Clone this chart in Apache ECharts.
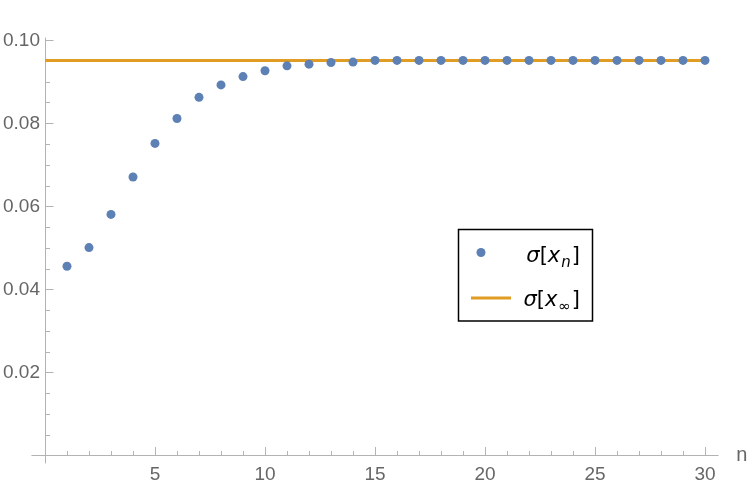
<!DOCTYPE html>
<html>
<head>
<meta charset="utf-8">
<script src="https://cdn.jsdelivr.net/npm/echarts@6/dist/echarts.min.js"></script>
<style>html,body{margin:0;padding:0;background:#fff}#c{width:750px;height:492px}</style>
</head>
<body>
<div id="c"></div>
<script>
const nValues = [1,2,3,4,5,6,7,8,9,10,11,12,13,14,15,16,17,18,19,20,21,22,23,24,25,26,27,28,29,30];
const sigmaN = [0.0456,0.0501,0.0581,0.0671,0.0752,0.0812,0.0863,0.0893,0.0913,0.0927,
                0.0939,0.0943,0.0947,0.0948,0.0952,0.0952,0.0952,0.0952,0.0952,0.0952,
                0.0952,0.0952,0.0952,0.0952,0.0952,0.0952,0.0952,0.0952,0.0952,0.0952];
const sigmaInf = 0.0952;
const limitX = [0, 30];
const xMajorTicks = [5,10,15,20,25,30];
const xMinorTicks = [1,2,3,4,5,6,7,8,9,10,11,12,13,14,15,16,17,18,19,20,21,22,23,24,25,26,27,28,29,30];
const yMajorTicks = [0.02,0.04,0.06,0.08,0.10];
const yMinorTicks = [0.005,0.01,0.015,0.02,0.025,0.03,0.035,0.04,0.045,0.05,0.055,0.06,0.065,0.07,0.075,0.08,0.085,0.09,0.095,0.10];

const axisGray = '#b3b3b3';
const labelGray = '#666666';
const font = 'Liberation Sans, Arial, sans-serif';

const chart = echarts.init(document.getElementById('c'), null, {renderer:'canvas'});
const xBase = {type:'value', min:-0.6, max:30.6, splitLine:{show:false}, position:'bottom'};
const yBase = {type:'value', min:-0.0018, max:0.1006, splitLine:{show:false}, position:'left'};
chart.setOption({
  animation:false,
  grid:{left:31.8, right:31.8, top:38, bottom:29, containLabel:false, outerBoundsMode:'none'},
  xAxis:[
    Object.assign({}, xBase, {
      axisLine:{show:true, onZero:true, onZeroAxisIndex:0, lineStyle:{color:axisGray, width:1}},
      axisTick:{show:true, inside:true, length:4.5, customValues:xMinorTicks, lineStyle:{color:axisGray}},
      axisLabel:{show:true, customValues:xMajorTicks, margin:2, color:labelGray, fontSize:19, fontFamily:font},
      name:'n', nameLocation:'end', nameGap:18,
      nameTextStyle:{color:labelGray, fontSize:20, fontFamily:font}
    }),
    Object.assign({}, xBase, {
      axisLine:{show:false, onZero:true, onZeroAxisIndex:0},
      axisTick:{show:true, inside:true, length:8.5, customValues:xMajorTicks, lineStyle:{color:axisGray}},
      axisLabel:{show:false}
    })
  ],
  yAxis:[
    Object.assign({}, yBase, {
      axisLine:{show:true, onZero:true, onZeroAxisIndex:0, lineStyle:{color:axisGray, width:1}},
      axisTick:{show:true, inside:true, length:5, customValues:yMinorTicks, lineStyle:{color:axisGray}},
      axisLabel:{show:true, customValues:yMajorTicks, margin:-8.2, color:labelGray, fontSize:19, fontFamily:font,
                 formatter:v=>v.toFixed(2)}
    }),
    Object.assign({}, yBase, {
      axisLine:{show:false, onZero:true, onZeroAxisIndex:0},
      axisTick:{show:true, inside:true, length:8.5, customValues:yMajorTicks, lineStyle:{color:axisGray}},
      axisLabel:{show:false}
    })
  ],
  series:[
    {
      type:'line', name:'σ[x∞]', xAxisIndex:0, yAxisIndex:0, z:2,
      data:limitX.map(x=>[x, sigmaInf]), showSymbol:false, symbol:'none',
      lineStyle:{color:'#E19C24', width:3}
    },
    {
      type:'scatter', name:'σ[xn]', xAxisIndex:0, yAxisIndex:0, z:3,
      data:nValues.map((n,i)=>[n, sigmaN[i]]), symbolSize:9,
      itemStyle:{color:'#5E81B5', opacity:1}
    }
  ],
  graphic:[
    {type:'rect', z:10, shape:{x:458.5, y:229.5, width:134, height:91.5},
     style:{fill:'#ffffff', stroke:'#000000', lineWidth:1.5}},
    {type:'circle', z:11, shape:{cx:481, cy:252.5, r:4.5}, style:{fill:'#5E81B5'}},
    {type:'line', z:11, shape:{x1:471, y1:298, x2:511, y2:298}, style:{stroke:'#E19C24', lineWidth:3}},
    {type:'text', z:11, style:{
      x:580, y:257, align:'right', verticalAlign:'middle',
      text:'{i|σ}{r|[}{i|x}{s|n}{r|]}',
      rich:{
        i:{fontSize:21, fontStyle:'italic', fontFamily:'DejaVu Sans, sans-serif', fill:'#000', lineHeight:28, verticalAlign:'middle'},
        r:{fontSize:21, fontFamily:'DejaVu Sans, sans-serif', fill:'#000', lineHeight:28, verticalAlign:'middle'},
        s:{fontSize:15, fontStyle:'italic', fontFamily:'DejaVu Sans, sans-serif', fill:'#000', lineHeight:14, verticalAlign:'bottom', padding:[0,1,0,1]}
      }
    }},
    {type:'text', z:11, style:{
      x:580, y:301, align:'right', verticalAlign:'middle',
      text:'{i|σ}{r|[}{i|x}{s|∞}{r|]}',
      rich:{
        i:{fontSize:21, fontStyle:'italic', fontFamily:'DejaVu Sans, sans-serif', fill:'#000', lineHeight:28, verticalAlign:'middle'},
        r:{fontSize:21, fontFamily:'DejaVu Sans, sans-serif', fill:'#000', lineHeight:28, verticalAlign:'middle'},
        s:{fontSize:15, fontFamily:'DejaVu Sans, sans-serif', fill:'#000', lineHeight:14, verticalAlign:'bottom', padding:[0,1,0,1]}
      }
    }}
  ]
});
</script>
</body>
</html>
